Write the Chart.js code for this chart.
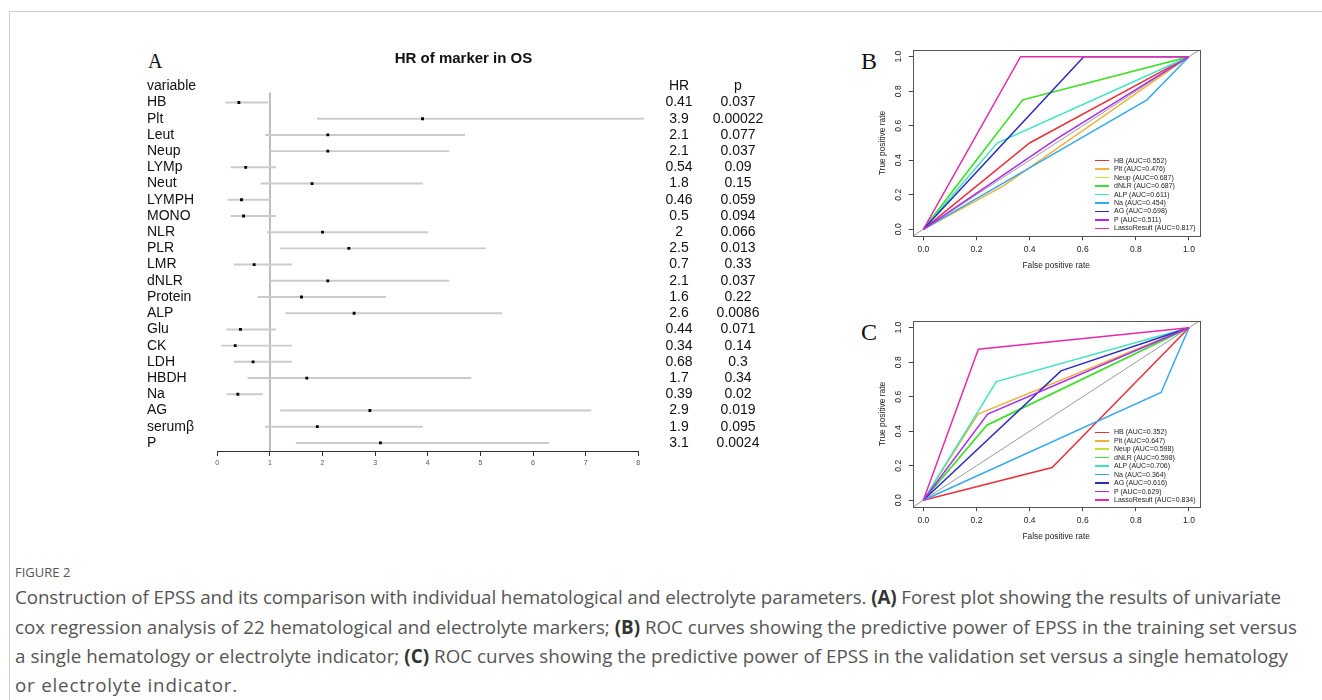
<!DOCTYPE html>
<html><head><meta charset="utf-8">
<script src="https://cdn.jsdelivr.net/npm/chart.js@4.4.1/dist/chart.umd.min.js"></script>
<style>
html,body{margin:0;padding:0;background:#fff;}
body{width:1322px;height:700px;overflow:hidden;position:relative;font-family:'Liberation Sans',Arial,sans-serif;}
.frame{position:absolute;left:9px;top:11px;width:1330px;height:700px;border-left:1px solid #cfcfcf;border-top:1px solid #cfcfcf;}
canvas{position:absolute;}
.plab{position:absolute;font-family:'Liberation Serif','Times New Roman',serif;color:#111;}
.leg{position:absolute;font:7px 'Liberation Sans',Arial,sans-serif;color:#222;white-space:nowrap;}
.leg .sw{position:absolute;height:1.6px;width:14px;}
.leg .tx{position:absolute;line-height:8px;}
.cap{position:absolute;left:15px;font-family:'Open Sans',sans-serif;color:#555;white-space:nowrap;}
.cap b{color:#333;font-weight:700;}
</style>
</head><body>
<div class="frame"></div>
<div class="plab" style="left:148px;top:51px;font-size:20px;line-height:20px;">A</div>
<div class="plab" style="left:861px;top:49px;font-size:24px;line-height:24px;">B</div>
<div class="plab" style="left:861px;top:320px;font-size:24px;line-height:24px;">C</div>
<canvas id="forest" width="650" height="440" style="left:130px;top:40px;"></canvas>
<canvas id="rocB" width="360" height="250" style="left:860px;top:30px;"></canvas>
<canvas id="rocC" width="360" height="250" style="left:860px;top:300.6px;"></canvas>
<div id="legB"></div>
<div id="legC"></div>
<div class="cap" id="figlab" style="top:563px;font-size:13px;line-height:18px;color:#555;">FIGURE 2</div>
<div class="cap capline" data-w="1266" style="top:582.4px;font-size:17px;line-height:29px;">Construction of EPSS and its comparison with individual hematological and electrolyte parameters. <b>(A)</b> Forest plot showing the results of univariate</div>
<div class="cap capline" data-w="1282" style="top:611.7px;font-size:17px;line-height:29px;">cox regression analysis of 22 hematological and electrolyte markers; <b>(B)</b> ROC curves showing the predictive power of EPSS in the training set versus</div>
<div class="cap capline" data-w="1273" style="top:641px;font-size:17px;line-height:29px;">a single hematology or electrolyte indicator; <b>(C)</b> ROC curves showing the predictive power of EPSS in the validation set versus a single hematology</div>
<div class="cap capline" data-w="223" style="top:670.3px;font-size:17px;line-height:29px;">or electrolyte indicator.</div>
<script>
// ---------- Panel A data ----------
const variables = ['HB','Plt','Leut','Neup','LYMp','Neut','LYMPH','MONO','NLR','PLR','LMR','dNLR','Protein','ALP','Glu','CK','LDH','HBDH','Na','AG','serumβ','P'];
const hr      = [0.41,3.9,2.1,2.1,0.54,1.8,0.46,0.5,2,2.5,0.7,2.1,1.6,2.6,0.44,0.34,0.68,1.7,0.39,2.9,1.9,3.1];
const ciLow   = [0.16,1.9,0.92,1.0,0.26,0.83,0.2,0.26,0.95,1.2,0.32,1.0,0.77,1.3,0.18,0.08,0.32,0.58,0.18,1.2,0.91,1.5];
const ciHigh  = [0.96,8.1,4.7,4.4,1.11,3.9,1.0,1.11,4.0,5.1,1.41,4.4,3.2,5.4,1.11,1.41,1.41,4.82,0.86,7.1,3.9,6.3];
const pValues = ['0.037','0.00022','0.077','0.037','0.09','0.15','0.059','0.094','0.066','0.013','0.33','0.037','0.22','0.0086','0.071','0.14','0.3','0.34','0.02','0.019','0.095','0.0024'];
const forestTicks = [0,1,2,3,4,5,6,7,8];
const headerRow = ['variable','HR','p'];
const refHR = 1;

// ---------- Panel B / C data ----------
const rocNames  = ['HB','Plt','Neup','dNLR','ALP','Na','AG','P','LassoResult'];
const rocColors = ['#e8323c','#f2b03c','#bde634','#3ee03e','#3ee6bd','#36a9ef','#2b2bc4','#a92cf0','#e62caa'];
const aucTrain  = ['0.552','0.476','0.687','0.687','0.611','0.454','0.698','0.511','0.817'];
const aucValid  = ['0.352','0.647','0.598','0.598','0.706','0.364','0.616','0.629','0.834'];
const trainFPR  = [[0.40],[0.30],[0.375],[0.374],[0.278],[0.842],[0.604],[0.50],[0.366]];
const trainTPR  = [[0.50],[0.25],[0.75],[0.75],[0.50],[0.75],[1.0],[0.522],[1.0]];
const validFPR  = [[0.485],[0.206],[0.239],[0.239],[0.275],[0.895],[0.518],[0.242],[0.207]];
const validTPR  = [[0.19],[0.50],[0.435],[0.435],[0.6875],[0.625],[0.75],[0.50],[0.875]];
const rocTicks  = [0,0.2,0.4,0.6,0.8,1.0];

Chart.defaults.font.family = "'Liberation Sans', Arial, sans-serif";
Chart.defaults.animation = false;

// ---------- Forest plot ----------
const rowLabels = [headerRow[0], ...variables];
const hrLabels = [headerRow[1], ...hr.map(String)];
const pLabels  = [headerRow[2], ...pValues];
new Chart(document.getElementById('forest'), {
  type: 'bar',
  data: {
    labels: rowLabels,
    datasets: [
      { type:'line', xAxisID:'x', yAxisID:'yr', data:[{x:refHR,y:0.4},{x:refHR,y:rowLabels.length-0.5}],
        borderColor:'#b4b4b4', borderWidth:1, pointRadius:0, order:3 },
      { type:'bar', indexAxis:'y', xAxisID:'x', yAxisID:'y',
        data:[null, ...variables.map((v,i)=>[ciLow[i],ciHigh[i]])],
        backgroundColor:'#cbcbcb', borderWidth:0, barThickness:1.3, clip:false, order:2 },
      { type:'scatter', xAxisID:'x', yAxisID:'y',
        data: variables.map((v,i)=>({x:hr[i], y:v})),
        pointStyle:'rect', pointRadius:2.0, backgroundColor:'#000', borderColor:'#000', borderWidth:0, order:1 }
    ]
  },
  options: {
    responsive:false, animation:false,
    layout:{padding:{left:17,right:0,top:0,bottom:9}},
    plugins:{
      legend:{display:false}, tooltip:{enabled:false},
      title:{display:true, text:'HR of marker in OS', color:'#111',
        font:{size:15, weight:'bold', family:"'Liberation Sans', Arial, sans-serif"}, padding:{top:10,bottom:10.2}}
    },
    scales:{
      x:{type:'linear', position:'bottom', min:0, max:8, offset:false,
        afterBuildTicks: s => { s.ticks = forestTicks.map(v=>({value:v})); },
        ticks:{font:{size:7}, color:'#555', padding:3},
        grid:{offset:false, drawOnChartArea:false, drawTicks:true, tickLength:5, tickColor:'#333'},
        border:{display:true, color:'#333', width:1},
        afterFit: s => { s.height = 20; }},
      y:{type:'category', position:'left', offset:true,
        ticks:{autoSkip:false, crossAlign:'far', font:{size:14}, color:'#111', padding:0},
        grid:{display:false, drawTicks:false}, border:{display:false},
        afterFit: s => { s.width = 70.3; }},
      yHR:{type:'category', axis:'y', labels:hrLabels, position:'right', offset:true, weight:1,
        ticks:{autoSkip:false, crossAlign:'center', padding:0, font:{size:14}, color:'#111'},
        grid:{display:true, drawOnChartArea:false, drawTicks:true, tickLength:27.1, tickColor:'rgba(0,0,0,0)', color:'rgba(0,0,0,0)'},
        border:{display:false},
        afterFit: s => { s.width = 60; }},
      yP:{type:'category', axis:'y', labels:pLabels, position:'right', offset:true, weight:2,
        ticks:{autoSkip:false, crossAlign:'center', padding:0, font:{size:14}, color:'#111'},
        grid:{display:true, drawOnChartArea:false, drawTicks:true, tickLength:14.4, tickColor:'rgba(0,0,0,0)', color:'rgba(0,0,0,0)'},
        border:{display:false},
        afterFit: s => { s.width = 81.7; }},
      yr:{type:'linear', axis:'y', position:'left', display:false, min:-0.5, max:rowLabels.length-0.5, reverse:true}
    }
  }
});

// ---------- ROC plots ----------
const boxPlugin = {
  id:'boxBorder',
  afterDraw(chart){
    const {ctx, chartArea:a} = chart;
    ctx.save(); ctx.strokeStyle='#555'; ctx.lineWidth=1;
    ctx.strokeRect(Math.round(a.left)+0.5, Math.round(a.top)+0.5, Math.round(a.right-a.left), Math.round(a.bottom-a.top));
    ctx.restore();
  }
};
function makeRoc(id, fprs, tprs, padTop, padBottom){
  const datasets = [{
    data:[{x:-0.04,y:-0.04},{x:1.04,y:1.04}], borderColor:'#9a9a9a', borderWidth:1,
    pointRadius:0, showLine:true, order:100
  }];
  rocNames.forEach((n,i)=>{
    const pts = [{x:0,y:0}, ...fprs[i].map((f,j)=>({x:f,y:tprs[i][j]})), {x:1,y:1}];
    datasets.push({label:n, data:pts, borderColor:rocColors[i], backgroundColor:rocColors[i],
      borderWidth:1.5, pointRadius:0, showLine:true, tension:0, order:rocNames.length-i});
  });
  new Chart(document.getElementById(id), {
    type:'scatter',
    data:{datasets},
    plugins:[boxPlugin],
    options:{
      responsive:false, animation:false,
      layout:{padding:{left:12.7, top:padTop, right:20.4, bottom:padBottom}},
      plugins:{legend:{display:false}, tooltip:{enabled:false}},
      scales:{
        x:{type:'linear', min:-0.04, max:1.04, position:'bottom',
          afterBuildTicks: s => { s.ticks = rocTicks.map(v=>({value:v})); },
          ticks:{font:{size:8.5}, color:'#222', padding:4.7, callback:v=>Number(v).toFixed(1), maxRotation:0},
          grid:{drawOnChartArea:false, drawTicks:true, tickLength:4, tickColor:'#444'},
          border:{display:false},
          title:{display:true, text:'False positive rate', color:'#222', font:{size:8.3}, padding:{top:0,bottom:5.2}},
          afterFit: s => { s.height = 40; }},
        y:{type:'linear', min:-0.04, max:1.04, position:'left',
          afterBuildTicks: s => { s.ticks = rocTicks.map(v=>({value:v})); },
          ticks:{font:{size:8.5}, color:'#222', padding:4.3, minRotation:90, maxRotation:90, crossAlign:'center',
            callback:v=>Number(v).toFixed(1)},
          grid:{drawOnChartArea:false, drawTicks:true, tickLength:4, tickColor:'#444'},
          border:{display:false},
          title:{display:true, text:'True positive rate', color:'#222', font:{size:8.4}, padding:{top:5.3,bottom:0}},
          afterFit: s => { s.width = 40; }}
      }
    }
  });
}
makeRoc('rocB', trainFPR, trainTPR, 19.8, 3.8);
makeRoc('rocC', validFPR, validTPR, 19.8, 3.8);

// ---------- legends ----------
function makeLegend(id, aucs, x0, y0, step){
  const host = document.getElementById(id);
  rocNames.forEach((n,i)=>{
    const row = document.createElement('div');
    row.className='leg';
    row.style.left = x0+'px'; row.style.top = (y0+i*step)+'px';
    const sw = document.createElement('div'); sw.className='sw';
    sw.style.background = rocColors[i]; sw.style.left='0px'; sw.style.top='-0.8px';
    const tx = document.createElement('div'); tx.className='tx';
    tx.style.left='19px'; tx.style.top='-4px';
    tx.textContent = n+' (AUC='+aucs[i]+')';
    row.appendChild(sw); row.appendChild(tx); host.appendChild(row);
  });
}
makeLegend('legB', aucTrain, 1095, 160.7, 8.45);
makeLegend('legC', aucValid, 1095, 432.3, 8.46);

// ---------- caption fitting ----------
function fitCaption(){
  const lines = Array.from(document.querySelectorAll('.capline'));
  lines.forEach(el=>{ el.style.letterSpacing='0px'; el.style.fontSize='17px'; });
  const ref = lines[1];
  const w0 = ref.getBoundingClientRect().width;
  const fs = 17 * parseFloat(ref.dataset.w) / w0;
  lines.forEach(el=>{
    el.style.fontSize = fs+'px';
    const w = el.getBoundingClientRect().width;
    const target = parseFloat(el.dataset.w);
    el.style.letterSpacing = ((target-w)/el.textContent.length)+'px';
  });
}
fitCaption();
if (document.fonts && document.fonts.ready) document.fonts.ready.then(fitCaption);
</script>
</body></html>
